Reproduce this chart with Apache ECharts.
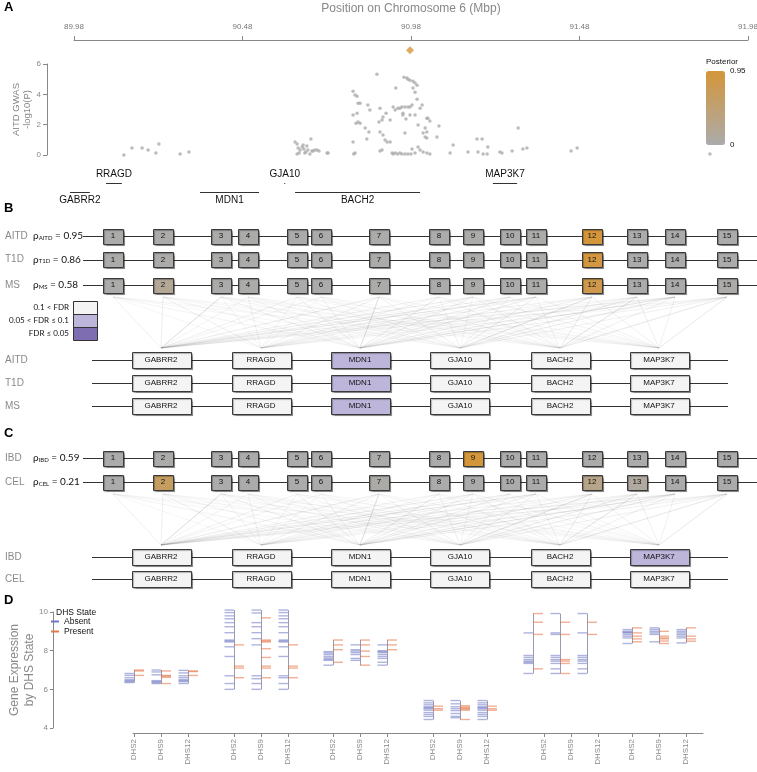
<!DOCTYPE html>
<html><head><meta charset="utf-8">
<script src="https://cdn.jsdelivr.net/npm/echarts@6.0.0/dist/echarts.min.js"></script>
<style>html,body{margin:0;padding:0;background:#fff;}#chart{width:757px;height:772px;}</style>
</head><body><div id="chart"></div>
<script>
// ================= DATA =================
// Panel A: GWAS points [position (Mbp), -log10(P)]
const gwasPoints = [
 [90.128,0.0],[90.152,0.46],[90.182,0.46],[90.200,0.33],[90.223,0.13],[90.232,0.72],[90.295,0.07],[90.321,0.2],
 [90.636,0.86],[90.642,0.72],[90.645,0.46],[90.648,0.13],[90.651,0.33],[90.657,0.53],[90.660,0.66],[90.662,0.39],[90.665,0.13],[90.671,0.59],[90.674,0.33],[90.680,0.07],[90.683,1.05],[90.686,0.26],[90.689,0.26],[90.695,0.33],[90.701,0.33],[90.707,0.26],[90.731,0.13],[90.734,0.13],[90.642,0.07],[90.668,0.2],
 [90.808,4.21],[90.814,3.95],[90.820,3.88],[90.823,3.42],[90.829,3.42],[90.852,3.29],[90.858,2.96],[90.808,2.63],[90.820,2.76],[90.823,2.17],[90.829,2.1],[90.817,2.1],[90.844,1.78],[90.855,1.51],[90.849,1.05],[90.808,0.86],[90.814,0.13],[90.810,0.07],
 [90.879,5.33],[90.935,4.41],
 [90.888,3.09],[90.894,2.3],[90.897,2.5],[90.885,2.17],[90.906,2.76],[90.918,2.3],[90.927,3.16],[90.933,2.96],[90.941,3.09],[90.953,3.16],[90.956,2.76],[90.965,2.37],
 [90.888,1.51],[90.897,1.32],[90.903,0.99],[90.909,0.86],[90.918,0.86],[90.894,0.33],[90.888,0.26],[90.924,0.13],[90.933,0.13],[90.947,0.13],[90.927,0.07],[90.940,0.07],
 [90.959,5.13],[90.968,5.07],[90.971,5.0],[90.977,4.93],[90.986,4.87],[90.992,4.74],[90.998,4.6],[90.986,4.41],[90.992,4.14],[90.998,3.68],
 [90.983,3.29],[90.977,3.16],[90.971,3.16],[90.962,3.16],[90.947,3.09],[91.013,3.29],[91.007,3.09],
 [90.956,2.63],[90.977,2.63],[90.992,2.63],[91.030,2.43],[91.036,2.24],[91.027,2.43],[91.001,1.97],[91.022,1.78],[91.027,1.51],[91.063,1.91],
 [90.962,1.45],[91.016,1.45],[91.022,1.18],[91.027,1.12],[91.057,1.18],
 [90.983,0.39],[91.001,0.53],[91.007,0.33],[91.016,0.2],[91.027,0.13],[91.036,0.07],[90.953,0.07],[90.962,0.07],[90.971,0.07],[90.992,0.13],[90.980,0.07],
 [91.105,0.66],[91.096,0.13],[91.149,0.2],[91.176,1.05],[91.191,1.05],[91.179,0.2],[91.194,0.07],[91.206,0.07],[91.208,0.53],[91.244,0.2],[91.250,0.13],[91.280,0.26],[91.298,1.78],[91.312,0.39],[91.324,0.46],[91.455,0.26],[91.473,0.46],[91.867,0.07]
];
const leadSnp = [90.977, 6.9];
const leadPosterior = 0.95;
const mbpTicks = [89.98, 90.48, 90.98, 91.48, 91.98];
const posteriorRange = [0, 0.95];

// Genes
const geneNames = ['GABRR2','RRAGD','MDN1','GJA10','BACH2','MAP3K7'];
const geneStartMbp = [89.968, 90.075, 90.354, 90.604, 90.636, 91.223];
const geneEndMbp   = [90.027, 90.122, 90.529, 90.607, 91.007, 91.295];
const geneTrackRow = [1, 0, 1, 0, 1, 0];

// DHS track (panels B, C)
const dhsIds = [1,2,3,4,5,6,7,8,9,10,11,12,13,14,15];
const dhsTrackPos = [1.13,1.63,2.21,2.48,2.97,3.21,3.79,4.39,4.73,5.10,5.36,5.92,6.37,6.75,7.27];
const geneTrackPos = [1.61,2.61,3.60,4.60,5.60,6.59];

const traitsB = ['AITD','T1D','MS'];
const rhoB = [0.95, 0.86, 0.58];
const dhsPosteriorB = [
 [0.01,0.02,0.01,0.01,0.0,0.0,0.01,0.0,0.01,0.0,0.01,0.95,0.0,0.0,0.0],
 [0.01,0.02,0.01,0.01,0.0,0.0,0.01,0.0,0.01,0.0,0.01,0.90,0.0,0.0,0.0],
 [0.01,0.18,0.01,0.01,0.0,0.0,0.01,0.0,0.01,0.0,0.01,0.80,0.0,0.0,0.02]
];
const geneFdrB = [[0,0,1,0,0,0],[0,0,1,0,0,0],[0,0,1,0,0,0]];

const traitsC = ['IBD','CEL'];
const rhoC = [0.59, 0.21];
const dhsPosteriorC = [
 [0.0,0.01,0.0,0.0,0.0,0.0,0.01,0.0,0.95,0.0,0.0,0.01,0.0,0.0,0.0],
 [0.0,0.62,0.0,0.0,0.0,0.0,0.03,0.0,0.0,0.0,0.0,0.28,0.10,0.0,0.0]
];
const geneFdrC = [[0,0,0,0,0,1],[0,0,0,0,0,0]];
const fdrClasses = ['0.1 < FDR','0.05 < FDR \u2264 0.1','FDR \u2264 0.05'];

// DHS-gene link strengths (rows: DHS 1..15, cols: genes)
const linkWeight = [
 [0.20,0.10,0.15,0.10,0.10,0.05],
 [0.25,0.20,0.15,0.10,0.10,0.10],
 [0.60,0.15,0.20,0.15,0.10,0.10],
 [0.15,0.20,0.15,0.10,0.15,0.05],
 [0.20,0.15,0.25,0.10,0.10,0.10],
 [0.15,0.15,0.20,0.15,0.10,0.10],
 [0.30,0.20,0.55,0.20,0.15,0.10],
 [0.20,0.15,0.30,0.20,0.15,0.10],
 [0.30,0.20,0.25,0.15,0.20,0.15],
 [0.25,0.15,0.20,0.20,0.15,0.10],
 [0.40,0.20,0.30,0.25,0.20,0.15],
 [0.20,0.15,0.25,0.50,0.30,0.20],
 [0.15,0.10,0.20,0.30,0.45,0.25],
 [0.30,0.15,0.45,0.30,0.20,0.20],
 [0.15,0.15,0.20,0.20,0.40,0.35]
];

// Panel D: expression by DHS state  [gene][DHS]
const exprDhs = ['DHS2','DHS9','DHS12'];
const exprAbsent = [
 [[6.82,6.72,6.6,6.5,6.45,6.4,6.35],[7.0,6.9,6.75,6.45,6.4,6.35,6.3],[6.98,6.85,6.7,6.6,6.5,6.45,6.4,6.3]],
 [[10.1,9.97,9.8,9.65,9.45,9.24,8.93,8.55,8.5,8.45,8.2,7.7,6.7,6.3,6.0],[10.1,9.95,9.45,9.24,8.93,8.62,8.3,6.7,6.55,6.3,6.0],[10.1,9.97,9.8,9.65,9.45,9.24,8.93,8.55,8.5,8.45,8.2,7.7,6.7,6.6,6.3,6.0]],
 [[7.95,7.88,7.8,7.7,7.62,7.55,7.5,7.25],[8.3,8.05,7.98,7.9,7.8,7.6,7.5],[8.3,8.0,7.95,7.9,7.8,7.7,7.6,7.4,7.25]],
 [[5.42,5.3,5.2,5.1,5.05,5.0,4.92,4.8,4.7,4.6,4.44],[5.42,5.25,5.1,5.0,4.9,4.75,4.6,4.53],[5.42,5.3,5.2,5.1,5.05,5.0,4.92,4.8,4.7,4.6,4.44]],
 [[8.92,7.75,7.65,7.54,7.46,7.4,7.34,6.82],[9.92,8.92,8.84,7.75,7.65,7.54,7.46,7.34,7.06,6.82],[9.92,8.92,7.75,7.65,7.54,7.46,7.34,7.06,6.82]],
 [[9.09,9.0,8.95,8.92,8.84,8.75,8.66,8.37],[9.18,9.09,9.0,8.92,8.84,8.46],[9.09,9.0,8.92,8.84,8.75,8.66,8.4]]
];
const exprPresent = [
 [[7.0,6.95,6.72],[6.95,6.72,6.68,6.62,6.3],[6.95,6.92,6.72]],
 [[8.3,7.2,7.1,6.6],[9.7,8.55,8.5,8.45,8.1,7.65,7.2,7.1,6.6],[8.3,7.2,7.1,6.6]],
 [[8.55,8.3,8.05,7.4],[8.55,8.3,7.98,7.7,7.25],[8.55,8.3,8.05]],
 [[5.13,5.0,4.92],[5.15,5.08,5.02,4.98,4.92,4.44],[5.13,5.0,4.92]],
 [[9.92,9.47,8.84,7.06],[9.47,8.84,7.54,7.46,7.34,6.82],[9.47,8.84]],
 [[9.18,8.92,8.75,8.61,8.46],[9.0,8.75,8.66,8.61,8.5,8.37],[9.18,8.75,8.61,8.49]]
];

// ================= LAYOUT (not data) =================
const FONT = '"Liberation Sans", Arial, sans-serif';
const LAYOUT = {
  B: {dhsRowY:[1.6,3.95,6.5], linkTop:7.7, linkBot:12.8, geneRowY:[14.0,16.3,18.6]},
  C: {dhsRowY:[1.8,4.2], linkTop:5.4, linkBot:10.5, geneRowY:[11.7,13.9]},
  dhsLine:[0.83,7.57], geneLine:[0.92,7.28], traitX:0.05, rhoX:0.33
};
const dOffsets = [-0.27, 0, 0.27];
const dTickShift = [0, 0, 0, 0, 0.11, 0];

function txt(text, x, y, font, fill, align, valign, extra) {
  const s = {text, x, y, font, fill, align: align||'center', textAlign: align||'center',
    verticalAlign: valign||'middle', textVerticalAlign: valign||'middle'};
  return Object.assign({type:'text', style: Object.assign(s, extra||{})});
}
const crisp = v => Math.round(v) + 0.5;

function renderGeneA(params, api) {
  const row = api.value(2);
  const s = api.coord([api.value(0), row]);
  const e = api.coord([api.value(1), row]);
  const y = crisp(s[1]);
  const mid = (s[0] + e[0]) / 2;
  return {type:'group', children:[
    {type:'line', shape:{x1:s[0], y1:y, x2:Math.max(e[0], s[0]+1), y2:y}, style:{stroke:'#333', lineWidth:1}},
    txt(geneNames[api.value(3)], mid, row === 0 ? s[1]-9 : s[1]+8, '10px ' + FONT, '#111')
  ]};
}
function makeRowRender(kind, traits, rho) {
  return function (params, api) {
    const y = api.value(0), t = api.value(1);
    const ext = kind === 'dhs' ? LAYOUT.dhsLine : LAYOUT.geneLine;
    const p1 = api.coord([ext[0], y]), p2 = api.coord([ext[1], y]);
    const lab = api.coord([LAYOUT.traitX, y]);
    const yy = crisp(p1[1]);
    const children = [
      {type:'line', shape:{x1:p1[0], y1:yy, x2:p2[0], y2:yy}, style:{stroke:'#333', lineWidth:1}},
      txt(traits[t], lab[0], lab[1], '10px ' + FONT, '#8a8a8a', 'left')
    ];
    if (kind === 'dhs') {
      const r = api.coord([LAYOUT.rhoX, y]);
      children.push(txt('{n|\u03c1}{s|' + traits[t] + '}{n| = ' + rho[t].toFixed(2) + '}', r[0], r[1], '10px Lato', '#111', 'left', 'middle', {
        rich: {
          n: {fontSize:10, fontFamily:'Lato', fill:'#111', color:'#111'},
          s: {fontSize:6, fontFamily:'Lato', fill:'#111', color:'#111', verticalAlign:'bottom', padding:[3,0,0,0]}
        }
      }));
    }
    return {type:'group', children};
  };
}
function makeLinkRender(L) {
  return function (params, api) {
    const a = api.coord([api.value(0), L.linkTop]);
    const b = api.coord([api.value(1), L.linkBot]);
    const w = api.value(2);
    return {type:'line', shape:{x1:a[0], y1:a[1], x2:b[0], y2:b[1]},
      style:{stroke:'rgba(110,110,110,' + (0.03 + 0.42*w).toFixed(3) + ')', lineWidth:0.9}};
  };
}
function renderDhs(params, api) {
  const c = api.coord([api.value(0), api.value(1)]);
  const x = crisp(c[0]-10), y = crisp(c[1]-7.5);
  return {type:'group', children:[
    {type:'rect', shape:{x, y, width:20, height:15},
     style:{fill:api.visual('color'), stroke:'#3a3a3a', lineWidth:1, shadowColor:'rgba(0,0,0,0.3)', shadowOffsetX:1, shadowOffsetY:1, shadowBlur:1}},
    txt(String(api.value(3)), c[0], c[1], '8px ' + FONT, '#111')
  ]};
}
function renderGeneBox(params, api) {
  const c = api.coord([api.value(0), api.value(1)]);
  const x = crisp(c[0]-29.5), y = crisp(c[1]-8);
  return {type:'group', children:[
    {type:'rect', shape:{x, y, width:59, height:16},
     style:{fill:api.visual('color'), stroke:'#3a3a3a', lineWidth:1, shadowColor:'rgba(0,0,0,0.3)', shadowOffsetX:1, shadowOffsetY:1, shadowBlur:1}},
    txt(geneNames[api.value(3)], c[0], c[1], '8px ' + FONT, '#111')
  ]};
}
function renderAbsent(params, api) {
  const c = api.coord([api.value(0), api.value(1)]);
  return {type:'line', shape:{x1:c[0]-9.5, y1:c[1], x2:c[0], y2:c[1]}, style:{stroke:'rgba(95,105,190,0.5)', lineWidth:1.4}};
}
function renderPresent(params, api) {
  const c = api.coord([api.value(0), api.value(1)]);
  return {type:'line', shape:{x1:c[0], y1:c[1], x2:c[0]+10, y2:c[1]}, style:{stroke:'rgba(228,112,62,0.55)', lineWidth:1.4}};
}
function renderDLine(params, api) {
  const a = api.coord([api.value(0), api.value(1)]);
  const b = api.coord([api.value(0), api.value(2)]);
  const x = crisp(a[0]);
  return {type:'line', shape:{x1:x, y1:a[1], x2:x, y2:b[1]}, style:{stroke:'#9a9ab2', lineWidth:1}};
}

// ================= BUILD =================
const series = [];
const idx = {};
function add(key, s) { idx[key] = series.length; series.push(s); }

add('gwas', {type:'scatter', xAxisIndex:0, yAxisIndex:0, symbol:'circle', symbolSize:3.5, clip:false,
  data: gwasPoints.map(p => [p[0], p[1], 0]), z:2});
add('lead', {type:'scatter', xAxisIndex:0, yAxisIndex:0, symbol:'diamond', symbolSize:8, clip:false,
  data: [[leadSnp[0], leadSnp[1], leadPosterior]], z:3});
add('genesA', {type:'custom', xAxisIndex:1, yAxisIndex:1, renderItem: renderGeneA,
  data: geneNames.map((n, i) => [geneStartMbp[i], geneEndMbp[i], geneTrackRow[i], i])});

function addPanel(key, g, L, traits, rho, post, fdr) {
  add(key+'dhsRows', {type:'custom', xAxisIndex:g, yAxisIndex:g, renderItem: makeRowRender('dhs', traits, rho),
    data: traits.map((t, i) => [L.dhsRowY[i], i])});
  add(key+'geneRows', {type:'custom', xAxisIndex:g, yAxisIndex:g, renderItem: makeRowRender('gene', traits, rho),
    data: traits.map((t, i) => [L.geneRowY[i], i])});
  const links = [];
  dhsIds.forEach((d, i) => geneNames.forEach((n, j) => links.push([dhsTrackPos[i], geneTrackPos[j], linkWeight[i][j]])));
  add(key+'links', {type:'custom', xAxisIndex:g, yAxisIndex:g, renderItem: makeLinkRender(L), data: links});
  const boxes = [];
  traits.forEach((t, r) => dhsIds.forEach((d, i) => boxes.push([dhsTrackPos[i], L.dhsRowY[r], post[r][i], d])));
  add(key+'dhs', {type:'custom', xAxisIndex:g, yAxisIndex:g, renderItem: renderDhs, data: boxes});
  const gb = [];
  traits.forEach((t, r) => geneNames.forEach((n, j) => gb.push([geneTrackPos[j], L.geneRowY[r], fdr[r][j], j])));
  add(key+'genes', {type:'custom', xAxisIndex:g, yAxisIndex:g, renderItem: renderGeneBox, data: gb});
}
addPanel('B', 2, LAYOUT.B, traitsB, rhoB, dhsPosteriorB, geneFdrB);
addPanel('C', 3, LAYOUT.C, traitsC, rhoC, dhsPosteriorC, geneFdrC);

const dAbs = [], dPre = [], dLines = [], dTicks = [], dTickLabels = [];
geneNames.forEach((n, gi) => exprDhs.forEach((d, di) => {
  const x = geneTrackPos[gi] + dOffsets[di];
  exprAbsent[gi][di].forEach(v => dAbs.push([x, v]));
  exprPresent[gi][di].forEach(v => dPre.push([x, v]));
  const all = exprAbsent[gi][di].concat(exprPresent[gi][di]);
  dLines.push([x, Math.min.apply(null, all), Math.max.apply(null, all)]);
  dTicks.push(+(x + dTickShift[gi]).toFixed(3));
  dTickLabels.push(d);
}));
add('dLines', {type:'custom', name:'range', xAxisIndex:4, yAxisIndex:4, renderItem: renderDLine, data: dLines});
add('dAbs', {type:'custom', name:'Absent', xAxisIndex:4, yAxisIndex:4, renderItem: renderAbsent, data: dAbs, itemStyle:{color:'#6f78c2'}});
add('dPre', {type:'custom', name:'Present', xAxisIndex:4, yAxisIndex:4, renderItem: renderPresent, data: dPre, itemStyle:{color:'#e0784a'}});

const gridBase = {outerBoundsMode:'none', containLabel:false};
const hiddenX = (g, min, max) => ({gridIndex:g, type:'value', min, max, show:false});
const hiddenY = (g, min, max, inv) => ({gridIndex:g, type:'value', min, max, inverse:!!inv, show:false});

const option = {
  animation: false,
  backgroundColor: '#fff',
  textStyle: {fontFamily: FONT},
  title: [
    {text:'A', left:4, top:1, padding:0, textStyle:{fontSize:13, fontWeight:'bold', color:'#000', fontFamily:FONT}},
    {text:'B', left:4, top:202, padding:0, textStyle:{fontSize:13, fontWeight:'bold', color:'#000', fontFamily:FONT}},
    {text:'C', left:4, top:427, padding:0, textStyle:{fontSize:13, fontWeight:'bold', color:'#000', fontFamily:FONT}},
    {text:'D', left:4, top:594, padding:0, textStyle:{fontSize:13, fontWeight:'bold', color:'#000', fontFamily:FONT}},
    {text:'DHS State', left:56, top:608, padding:0, textStyle:{fontSize:8.5, fontWeight:'normal', color:'#111', fontFamily:FONT}}
  ],
  legend: [{data:['Absent','Present'], left:51, top:617, orient:'vertical', icon:'rect', itemWidth:8, itemHeight:2,
    itemGap:1, padding:0, selectedMode:false, textStyle:{fontSize:8.5, color:'#111', lineHeight:9, fontFamily:FONT}}],
  grid: [
    Object.assign({left:74, top:64, width:674, height:91}, gridBase),
    Object.assign({left:74, top:183, width:674, height:9}, gridBase),
    Object.assign({left:0, top:220, width:757, height:200}, gridBase),
    Object.assign({left:0, top:440, width:757, height:150}, gridBase),
    Object.assign({left:133, top:612, width:570, height:116}, gridBase)
  ],
  xAxis: [
    {gridIndex:0, type:'value', position:'top', offset:24, min:89.98, max:91.98,
     axisLine:{show:true, onZero:false, lineStyle:{color:'#888', width:1}},
     axisTick:{show:true, length:4, customValues: mbpTicks, lineStyle:{color:'#888'}},
     axisLabel:{show:true, customValues: mbpTicks, formatter: v => Number(v).toFixed(2), fontSize:8, color:'#777', margin:9},
     splitLine:{show:false},
     name:'Position on Chromosome 6 (Mbp)', nameLocation:'middle', nameGap:25, nameMoveOverlap:false,
     nameTextStyle:{fontSize:12, color:'#888', fontFamily:FONT}},
    hiddenX(1, 89.98, 91.98),
    hiddenX(2, 0, 7.57),
    hiddenX(3, 0, 7.57),
    {gridIndex:4, type:'value', min:1.33, max:7.03, offset:5,
     axisLine:{show:true, onZero:false, lineStyle:{color:'#888', width:1}},
     axisTick:{show:true, length:4, customValues: dTicks, lineStyle:{color:'#888'}},
     axisLabel:{show:true, customValues: dTicks, rotate:90, fontSize:8, color:'#888', margin:6, showMinLabel:true, showMaxLabel:true,
       formatter: v => { let k = 0, best = 1e9; dTicks.forEach((t, i) => { const dd = Math.abs(t - v); if (dd < best) { best = dd; k = i; } }); return dTickLabels[k]; }},
     splitLine:{show:false}}
  ],
  yAxis: [
    {gridIndex:0, type:'value', min:0, max:6, interval:2, offset:27,
     axisLine:{show:true, onZero:false, lineStyle:{color:'#888', width:1}},
     axisTick:{show:true, length:4, lineStyle:{color:'#888'}},
     axisLabel:{fontSize:8, color:'#888', margin:6}, splitLine:{show:false},
     name:'AITD GWAS\n-log10(P)', nameLocation:'middle', nameRotate:90, nameGap:14, nameMoveOverlap:false,
     nameTextStyle:{fontSize:9.5, lineHeight:11, color:'#888', fontFamily:FONT}},
    hiddenY(1, 0, 1, true),
    hiddenY(2, 0, 20, true),
    hiddenY(3, 0, 15, true),
    {gridIndex:4, type:'value', min:4, max:10, interval:2, offset:80,
     axisLine:{show:true, onZero:false, lineStyle:{color:'#888', width:1}},
     axisTick:{show:true, length:3, lineStyle:{color:'#888'}},
     axisLabel:{fontSize:8, color:'#888', margin:5}, splitLine:{show:false},
     name:'Gene Expression\nby DHS State', nameLocation:'middle', nameRotate:90, nameGap:16, nameMoveOverlap:false,
     nameTextStyle:{fontSize:12, lineHeight:15, color:'#888', fontFamily:FONT}}
  ],
  visualMap: [
    {type:'continuous', min:posteriorRange[0], max:posteriorRange[1], dimension:2,
     seriesIndex:[idx.gwas, idx.lead, idx.Bdhs, idx.Cdhs],
     inRange:{color:['#ABABAB','#D4963A']}, calculable:false, orient:'vertical',
     left:706, top:71, itemWidth:19, itemHeight:74, padding:0, hoverLink:false},
    {type:'piecewise', dimension:2, seriesIndex:[idx.Bgenes, idx.Cgenes],
     pieces:[
       {value:0, label:fdrClasses[0], color:'#F4F4F4'},
       {value:1, label:fdrClasses[1], color:'#BDB5DA'},
       {value:2, label:fdrClasses[2], color:'#7E6DB0'}
     ],
     inverse:true,
     orient:'vertical', right:660, top:301, itemWidth:24, itemHeight:13, itemGap:0, itemSymbol:'rect',
     align:'right', textGap:4, padding:0, selectedMode:false, hoverLink:false,
     textStyle:{fontSize:8, color:'#111', fontFamily:'Lato'}}
  ],
  graphic: [
    {type:'text', left:706, top:58, style:{text:'Posterior', font:'8px ' + FONT, fill:'#111'}},
    {type:'text', left:730, top:67, style:{text:'0.95', font:'8px ' + FONT, fill:'#111'}},
    {type:'text', left:730, top:141, style:{text:'0', font:'8px ' + FONT, fill:'#111'}},
    {type:'rect', shape:{x:73.5, y:301.5, width:24, height:39}, style:{fill:'none', stroke:'#333', lineWidth:1}, z:100},
    {type:'line', shape:{x1:73.5, y1:314.5, x2:97.5, y2:314.5}, style:{stroke:'#333', lineWidth:1}, z:100},
    {type:'line', shape:{x1:73.5, y1:327.5, x2:97.5, y2:327.5}, style:{stroke:'#333', lineWidth:1}, z:100}
  ],
  series
};
const chart = echarts.init(document.getElementById('chart'), null, {renderer:'canvas', width:757, height:772});
chart.setOption(option);
</script></body></html>
